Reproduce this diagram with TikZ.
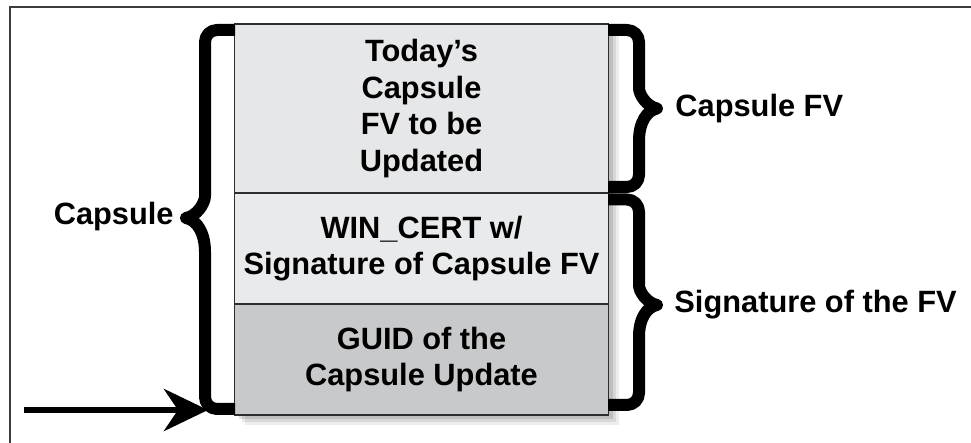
\documentclass[tikz,border=0pt]{standalone}
\usepackage{fontspec}
\setmainfont{Liberation Sans}
\usetikzlibrary{arrows.meta, positioning, shadows}
\definecolor{fvgray}{RGB}{230,231,232}
\definecolor{certgray}{RGB}{233,234,235}
\definecolor{guidgray}{RGB}{200,201,203}
\definecolor{edgegray}{RGB}{45,45,45}
\definecolor{framegray}{RGB}{60,60,60}

\tikzset{
  cell/.style={draw=edgegray, line width=0.8pt, minimum width=187pt, outer sep=0pt,
    align=center, font=\bfseries\fontsize{15.4}{18.3}\selectfont,
    drop shadow={shadow xshift=5pt, shadow yshift=-5pt, fill=black, opacity=0.07},
    drop shadow={shadow xshift=3.5pt, shadow yshift=-3.5pt, fill=black, opacity=0.09},
    drop shadow={shadow xshift=2pt, shadow yshift=-2pt, fill=black, opacity=0.12}},
  bracestroke/.style={line width=6pt, line join=round},
  sidelabel/.style={font=\bfseries\fontsize{15.4}{18}\selectfont, inner sep=0pt}
}

\begin{document}
\begin{tikzpicture}[x=0.5pt, y=-0.5pt]
  \useasboundingbox (0,0) rectangle (971,443);

  % Outer frame (only top and left edges show)
  \draw[framegray, line width=1pt] (9.5,443) |- (971,7.5);

  % Capsule layout
  \node[cell, fill=fvgray, minimum height=84.5pt] (fv) at (421.5,108.5)
    {Today’s\\Capsule\\FV to be\\Updated};
  \node[cell, fill=certgray, minimum height=55.5pt, below=0pt of fv] (cert)
    {WIN\_CERT w/\\Signature of Capsule FV};
  \node[cell, fill=guidgray, minimum height=55.5pt, below=0pt of cert] (guid)
    {GUID of the\\Capsule Update};

  % Left brace - whole capsule
  \draw[bracestroke] (235,30) [rounded corners=6pt] -- (205,30) -- (205,184) [sharp corners]
    .. controls (205,203) and (197,216) .. (186,218)
    .. controls (197,220) and (205,233) .. (205,252) [rounded corners=6pt] -- (205,409) -- (235,409);
  \node[sidelabel, anchor=east] (capsule) at (174,217) {Capsule};

  % Right braces
  \draw[bracestroke] (608,30) [rounded corners=6pt] -- (639,30) -- (639,76) [sharp corners]
    .. controls (639,95) and (647,106.5) .. (657,108.5)
    .. controls (647,110.5) and (639,122) .. (639,141) [rounded corners=6pt] -- (639,187) -- (608,187);
  \node[sidelabel, anchor=west] (fvlabel) at (675,108.5) {Capsule FV};

  \draw[bracestroke] (608,199.5) [rounded corners=6pt] -- (639,199.5) -- (639,273) [sharp corners]
    .. controls (639,292) and (647,303) .. (657,305)
    .. controls (647,307) and (639,318) .. (639,337) [rounded corners=6pt] -- (639,405) -- (608,405);
  \node[sidelabel, anchor=west] (siglabel) at (674,305) {Signature of the FV};

  % Entry arrow
  \coordinate (entry) at (24,410);
  \coordinate (capsulefoot) at (208,410);
  \draw[line width=3.3pt, -{Stealth[length=22pt, width=21pt, inset=7pt]}] (entry) -- (capsulefoot);

\end{tikzpicture}
\end{document}
